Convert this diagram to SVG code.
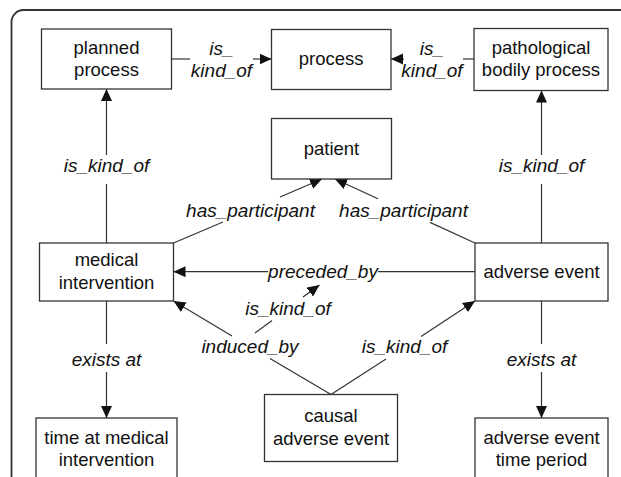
<svg xmlns="http://www.w3.org/2000/svg" width="621" height="477" viewBox="0 0 621 477">
<style>
.box{fill:#fff;stroke:#333;stroke-width:1.3}
.t{font-family:"Liberation Sans",Arial,sans-serif;font-size:18.5px;fill:#111;text-anchor:middle}
.l{font-family:"Liberation Sans",Arial,sans-serif;font-size:19px;font-style:italic;fill:#111;text-anchor:middle}
.c{fill:none;stroke:#333;stroke-width:1.2}
.a{marker-end:url(#ah)}
</style>
<defs>
<marker id="ah" markerUnits="userSpaceOnUse" markerWidth="13" markerHeight="12" refX="12" refY="5.5" orient="auto">
<path d="M0,0 L12,5.5 L0,11 z" fill="#111"/>
</marker>
</defs>
<rect x="0" y="0" width="621" height="477" fill="#fff"/>
<rect x="11.5" y="10" width="640" height="520" rx="12" fill="none" stroke="#333" stroke-width="1.8"/>

<g id="connectors">
<!-- planned process is_kind_of process -->
<path class="c" d="M171.5,59 L190,59"/>
<path class="c a" d="M253,59 L271.5,59"/>
<!-- pathological bodily process is_kind_of process -->
<path class="c" d="M474,59 L463,59"/>
<path class="c a" d="M404,59 L391,59"/>
<!-- medical intervention is_kind_of planned process -->
<path class="c" d="M106.5,243 L106.5,184"/>
<path class="c a" d="M106.5,155 L106.5,89"/>
<!-- adverse event is_kind_of pathological bodily process -->
<path class="c" d="M541.5,243 L541.5,184"/>
<path class="c a" d="M541.5,155 L541.5,90.5"/>
<!-- has_participant left -->
<path class="c" d="M173.5,243 L223,222"/>
<path class="c a" d="M280,197 L322,179"/>
<!-- has_participant right -->
<path class="c" d="M475,243 L430,222.4"/>
<path class="c a" d="M378,198.7 L335,179"/>
<!-- preceded_by -->
<path class="c" d="M475,271.7 L378,271.7"/>
<path class="c a" d="M268,271.7 L173.5,271.7"/>
<!-- induced_by -->
<path class="c" d="M331,394.5 L270,358.5"/>
<path class="c a" d="M232,336 L173.5,301"/>
<!-- causal is_kind_of adverse event -->
<path class="c" d="M331,394.5 L386,359"/>
<path class="c a" d="M421,336.5 L475,301"/>
<!-- induced_by is_kind_of preceded_by -->
<path class="c" d="M255,333 L272,320.5"/>
<path class="c a" d="M303,297 L319.5,285"/>
<!-- exists at left -->
<path class="c" d="M106.5,301 L106.5,344"/>
<path class="c a" d="M106.5,372 L106.5,418"/>
<!-- exists at right -->
<path class="c" d="M541.5,301 L541.5,344"/>
<path class="c a" d="M541.5,372 L541.5,418"/>

<text class="l" x="221.5" y="55">is_</text>
<text class="l" x="221.5" y="77">kind_of</text>
<text class="l" x="432" y="55">is_</text>
<text class="l" x="432" y="77">kind_of</text>
<text class="l" x="106.5" y="171.5">is_kind_of</text>
<text class="l" x="541.5" y="171.5">is_kind_of</text>
<text class="l" x="250.5" y="216.8">has_participant</text>
<text class="l" x="403.5" y="216.8">has_participant</text>
<text class="l" x="323" y="277.5">preceded_by</text>
<text class="l" x="288" y="314.5">is_kind_of</text>
<text class="l" x="250" y="352.5">induced_by</text>
<text class="l" x="404.5" y="352.5">is_kind_of</text>
<text class="l" x="106.5" y="366">exists at</text>
<text class="l" x="541.5" y="366">exists at</text>
</g>

<g id="planned-process">
<rect class="box" x="41.5" y="29" width="130" height="60"/>
<text class="t" x="106.5" y="53.5">planned</text>
<text class="t" x="106.5" y="76">process</text>
</g>
<g id="process">
<rect class="box" x="271.5" y="29.5" width="119.5" height="60"/>
<text class="t" x="331.2" y="64.5">process</text>
</g>
<g id="pathological-bodily-process">
<rect class="box" x="474" y="28.5" width="134" height="62"/>
<text class="t" x="541" y="53.5">pathological</text>
<text class="t" x="541" y="76">bodily process</text>
</g>
<g id="patient">
<rect class="box" x="271.5" y="118.5" width="120" height="60.5"/>
<text class="t" x="331.5" y="154.5">patient</text>
</g>
<g id="medical-intervention">
<rect class="box" x="39.5" y="243" width="134" height="58"/>
<text class="t" x="106.5" y="266">medical</text>
<text class="t" x="106.5" y="288.5">intervention</text>
</g>
<g id="adverse-event">
<rect class="box" x="475" y="243" width="133" height="58"/>
<text class="t" x="541.5" y="277.5">adverse event</text>
</g>
<g id="time-at-medical-intervention">
<rect class="box" x="36" y="418" width="141" height="80"/>
<text class="t" x="106.5" y="444">time at medical</text>
<text class="t" x="106.5" y="466">intervention</text>
</g>
<g id="causal-adverse-event">
<rect class="box" x="264.5" y="394.5" width="133" height="67"/>
<text class="t" x="331" y="421.5">causal</text>
<text class="t" x="331" y="445">adverse event</text>
</g>
<g id="adverse-event-time-period">
<rect class="box" x="475" y="418" width="133" height="80"/>
<text class="t" x="541.5" y="444">adverse event</text>
<text class="t" x="541.5" y="466">time period</text>
</g>
</svg>
